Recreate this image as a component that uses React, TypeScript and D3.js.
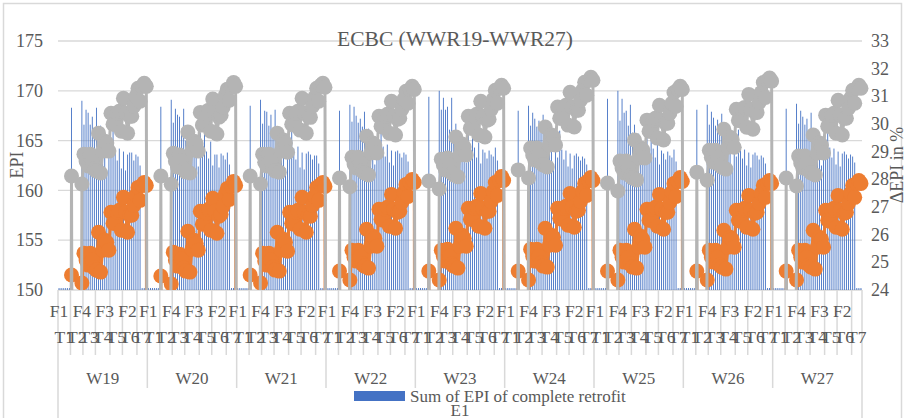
import React from "react";
import * as d3 from "d3";

// ---- data -------------------------------------------------------------
const groups = ["W19", "W20", "W21", "W22", "W23", "W24", "W25", "W26", "W27"];
const tLabels = ["T1", "T2", "T3", "T4", "T5", "T6", "T7"];
// number of category slots under each T inside one W group
const tSizes = [6, 6, 6, 7, 6, 7, 5];
// innermost labels that fit on the axis, and the slot each one sits on
const fLabels = ["F1", "F4", "F3", "F2"];
const fLabelSlots = [0, 11, 22, 33];

const leftTicks = [150, 155, 160, 165, 170, 175];
const rightTicks = [24, 25, 26, 27, 28, 29, 30, 31, 32, 33];

// Sum of EPI of complete retrofit (bars), one value per slot
const epiW19 = [150.2, 150.2, 150.2, 150.2, 150.2, 150.2, 168.3, 0, 0, 0, 0, 169.0, 166.6, 168.1, 167.8, 166.6, 167.4, 166.0, 168.3, 164.6, 166.5, 163.8, 164.3, 162.0, 165.5, 163.4, 166.8, 164.0, 163.0, 164.2, 162.2, 163.9, 162.0, 163.6, 163.8, 163.8, 163.0, 163.6, 163.4, 162.5, 150.2, 150.2, 150.2];
const epiW20 = [150.2, 150.2, 150.2, 150.2, 150.2, 150.2, 168.4, 0, 0, 0, 0, 169.1, 166.8, 168.2, 167.6, 167.4, 166.2, 168.2, 165.0, 166.0, 164.1, 165.2, 163.8, 164.1, 162.4, 165.8, 163.6, 166.5, 163.9, 163.2, 164.9, 162.5, 163.6, 163.6, 162.3, 163.7, 163.5, 163.1, 163.8, 162.6, 150.2, 150.2, 150.2];
const epiW21 = [150.2, 150.2, 150.2, 150.2, 150.2, 150.2, 168.5, 0, 0, 0, 0, 169.1, 166.7, 168.0, 167.9, 166.5, 167.6, 166.1, 168.1, 164.8, 166.3, 163.9, 164.5, 162.2, 165.4, 163.5, 166.6, 164.2, 163.1, 164.4, 162.3, 163.8, 162.1, 163.7, 163.9, 163.6, 163.1, 163.5, 163.5, 162.7, 150.2, 150.2, 150.2];
const epiW22 = [150.2, 150.2, 150.2, 150.2, 150.2, 150.2, 168.0, 0, 0, 0, 0, 168.6, 166.9, 168.4, 167.5, 166.8, 167.2, 166.4, 167.9, 165.0, 166.2, 164.2, 164.6, 162.6, 165.2, 163.8, 166.3, 164.4, 163.4, 164.6, 162.8, 164.0, 162.5, 163.9, 164.0, 163.7, 163.3, 163.8, 163.6, 162.9, 150.2, 150.2, 150.2];
const epiW23 = [150.2, 150.2, 150.2, 150.2, 150.2, 150.2, 169.4, 0, 0, 0, 0, 170.0, 168.1, 169.3, 168.1, 168.4, 166.1, 169.3, 166.0, 166.7, 164.4, 165.9, 164.0, 163.6, 162.8, 165.6, 164.0, 166.4, 164.3, 163.3, 164.8, 162.7, 164.1, 163.8, 163.2, 164.0, 163.6, 163.4, 164.3, 163.0, 150.2, 150.2, 150.2];
const epiW24 = [150.2, 150.2, 150.2, 150.2, 150.2, 150.2, 168.0, 0, 0, 0, 0, 168.5, 166.5, 167.8, 167.2, 166.4, 167.0, 165.8, 167.6, 164.5, 165.9, 163.9, 164.2, 162.3, 165.0, 163.3, 166.0, 164.1, 163.1, 164.0, 162.4, 163.7, 162.2, 163.5, 163.7, 163.4, 163.0, 163.4, 163.2, 162.6, 150.2, 150.2, 150.2];
const epiW25 = [150.2, 150.2, 150.2, 150.2, 150.2, 150.2, 169.2, 0, 0, 0, 0, 170.0, 167.0, 169.2, 167.8, 168.0, 166.5, 168.6, 165.8, 166.6, 164.3, 165.7, 163.9, 163.8, 162.7, 165.4, 163.9, 166.2, 164.2, 163.3, 164.6, 162.6, 164.0, 163.7, 163.1, 163.9, 163.5, 163.3, 164.1, 162.9, 150.2, 150.2, 150.2];
const epiW26 = [150.2, 150.2, 150.2, 150.2, 150.2, 150.2, 168.1, 0, 0, 0, 0, 168.6, 166.6, 167.9, 167.3, 166.5, 167.1, 165.9, 167.7, 164.6, 166.0, 164.0, 164.3, 162.4, 165.1, 163.4, 166.1, 164.2, 163.2, 164.1, 162.5, 163.8, 162.3, 163.6, 163.8, 163.5, 163.1, 163.5, 163.3, 162.7, 150.2, 150.2, 150.2];
const epiW27 = [150.2, 150.2, 150.2, 150.2, 150.2, 150.2, 168.2, 0, 0, 0, 0, 168.7, 166.7, 168.0, 167.4, 166.6, 167.2, 166.0, 167.8, 164.7, 166.1, 164.1, 164.4, 162.5, 165.2, 163.5, 166.2, 164.3, 163.3, 164.2, 162.6, 163.9, 162.4, 163.7, 163.9, 163.6, 163.2, 163.6, 163.4, 162.8, 150.2, 150.2, 150.2];
const epiRetrofit = [epiW19, epiW20, epiW21, epiW22, epiW23, epiW24, epiW25, epiW26, epiW27];

// slots that carry a value for the two marker series
const pointSlots = [6, 11, 12, 13, 14, 15, 16, 17, 18, 19, 20, 21, 22, 23, 24, 25, 26, 27, 28, 29, 30, 31, 32, 33, 34, 35, 36, 37, 38, 39, 40, 41, 42];

// EPI of partial retrofit (orange, primary axis)
const partW19 = [151.5, 150.7, 153.7, 153.0, 152.5, 153.7, 153.0, 152.2, 152.0, 155.8, 151.8, 154.0, 155.0, 154.8, 154.0, 157.8, 156.7, 156.7, 157.8, 158.0, 156.0, 159.3, 157.8, 155.8, 157.5, 157.5, 158.5, 159.5, 160.3, 159.0, 160.5, 160.8, 160.5];
const partW20 = [151.4, 150.6, 153.8, 153.0, 152.4, 153.6, 153.1, 152.2, 151.9, 155.9, 151.8, 154.1, 155.0, 154.7, 154.0, 157.9, 156.6, 156.8, 157.7, 158.1, 156.0, 159.2, 157.9, 155.7, 157.4, 157.6, 158.4, 159.6, 160.2, 159.1, 160.4, 160.9, 160.5];
const partW21 = [151.5, 150.7, 153.7, 152.9, 152.5, 153.7, 153.0, 152.3, 152.0, 155.8, 151.9, 154.0, 155.1, 154.8, 153.9, 157.8, 156.7, 156.6, 157.8, 158.0, 156.1, 159.3, 157.8, 155.8, 157.5, 157.4, 158.5, 159.4, 160.3, 159.0, 160.6, 160.8, 160.4];
const partW22 = [151.9, 151.0, 154.0, 153.3, 152.9, 154.0, 153.4, 152.6, 152.4, 156.1, 152.2, 154.4, 155.4, 155.2, 154.4, 158.1, 157.1, 157.0, 158.1, 158.3, 156.4, 159.6, 158.1, 156.2, 157.8, 157.9, 158.8, 159.8, 160.6, 159.4, 160.8, 161.1, 160.8];
const partW23 = [151.9, 151.0, 154.0, 153.4, 152.9, 154.1, 153.4, 152.6, 152.4, 156.2, 152.2, 154.4, 155.5, 155.2, 154.4, 158.2, 157.1, 157.1, 158.2, 158.4, 156.4, 159.7, 158.2, 156.2, 157.9, 157.9, 158.9, 159.9, 160.8, 159.5, 161.0, 161.4, 161.0];
const partW24 = [151.9, 151.0, 154.1, 153.4, 152.9, 154.1, 153.4, 152.7, 152.4, 156.2, 152.3, 154.5, 155.5, 155.3, 154.5, 158.2, 157.2, 157.1, 158.2, 158.4, 156.5, 159.7, 158.3, 156.3, 157.9, 158.0, 158.9, 159.9, 160.7, 159.5, 161.0, 161.3, 161.0];
const partW25 = [151.9, 151.0, 154.0, 153.3, 152.8, 154.0, 153.3, 152.6, 152.3, 156.1, 152.2, 154.3, 155.4, 155.1, 154.3, 158.1, 157.0, 157.0, 158.1, 158.3, 156.4, 159.6, 158.1, 156.1, 157.8, 157.8, 158.8, 159.8, 160.7, 159.4, 160.9, 161.3, 160.9];
const partW26 = [151.9, 151.0, 154.0, 153.3, 152.8, 154.0, 153.3, 152.5, 152.3, 156.0, 152.1, 154.3, 155.3, 155.1, 154.3, 158.0, 157.0, 156.9, 158.0, 158.2, 156.3, 159.5, 158.0, 156.1, 157.7, 157.8, 158.7, 159.7, 160.5, 159.3, 160.7, 161.0, 160.7];
const partW27 = [151.9, 151.0, 154.0, 153.3, 152.8, 154.0, 153.3, 152.5, 152.3, 156.0, 152.1, 154.3, 155.3, 155.1, 154.3, 158.0, 157.0, 156.9, 158.0, 158.2, 156.3, 159.5, 158.0, 156.1, 157.7, 157.8, 158.7, 159.7, 160.5, 159.3, 160.7, 161.0, 160.7];
const epiPartial = [partW19, partW20, partW21, partW22, partW23, partW24, partW25, partW26, partW27];

// ΔEPI in % (grey, secondary axis)
const dW19 = [28.12, 27.83, 28.91, 28.66, 28.48, 28.91, 28.66, 28.37, 28.30, 29.67, 28.23, 29.02, 29.38, 29.31, 29.02, 30.39, 29.99, 29.99, 30.39, 30.46, 29.74, 30.93, 30.39, 29.67, 30.28, 30.28, 30.64, 31.00, 31.29, 30.82, 31.36, 31.47, 31.36];
const dW20 = [28.12, 27.82, 28.94, 28.66, 28.45, 28.88, 28.68, 28.37, 28.27, 29.71, 28.23, 29.05, 29.38, 29.28, 29.02, 30.42, 29.96, 30.02, 30.36, 30.50, 29.74, 30.90, 30.42, 29.64, 30.25, 30.32, 30.61, 31.04, 31.26, 30.86, 31.33, 31.50, 31.36];
const dW21 = [28.12, 27.83, 28.91, 28.62, 28.48, 28.91, 28.66, 28.41, 28.30, 29.67, 28.26, 29.02, 29.42, 29.31, 28.98, 30.39, 29.99, 29.96, 30.39, 30.46, 29.78, 30.93, 30.39, 29.67, 30.28, 30.24, 30.64, 30.96, 31.29, 30.82, 31.40, 31.47, 31.33];
const dW22 = [28.05, 27.73, 28.80, 28.55, 28.41, 28.80, 28.59, 28.30, 28.23, 29.56, 28.16, 28.95, 29.31, 29.24, 28.95, 30.28, 29.92, 29.88, 30.28, 30.35, 29.67, 30.82, 30.28, 29.60, 30.17, 30.21, 30.53, 30.89, 31.18, 30.75, 31.25, 31.36, 31.25];
const dW23 = [27.94, 27.65, 28.73, 28.52, 28.34, 28.77, 28.52, 28.23, 28.16, 29.53, 28.09, 28.88, 29.28, 29.17, 28.88, 30.28, 29.85, 29.85, 30.28, 30.35, 29.60, 30.82, 30.28, 29.53, 30.14, 30.17, 30.53, 30.89, 31.22, 30.75, 31.29, 31.40, 31.29];
const dW24 = [28.34, 28.05, 29.13, 28.88, 28.70, 29.13, 28.88, 28.59, 28.52, 29.89, 28.45, 29.24, 29.60, 29.53, 29.24, 30.61, 30.21, 30.21, 30.61, 30.68, 29.96, 31.15, 30.61, 29.89, 30.50, 30.50, 30.86, 31.22, 31.51, 31.04, 31.58, 31.69, 31.58];
const dW25 = [27.87, 27.58, 28.66, 28.41, 28.23, 28.66, 28.41, 28.12, 28.05, 29.42, 27.98, 28.77, 29.13, 29.06, 28.77, 30.14, 29.74, 29.74, 30.14, 30.21, 29.49, 30.68, 30.14, 29.42, 30.03, 30.03, 30.39, 30.75, 31.14, 30.64, 31.25, 31.36, 31.25];
const dW26 = [28.26, 27.97, 29.05, 28.80, 28.62, 29.05, 28.80, 28.51, 28.44, 29.81, 28.37, 29.16, 29.52, 29.45, 29.16, 30.53, 30.13, 30.13, 30.53, 30.60, 29.88, 31.07, 30.53, 29.81, 30.42, 30.42, 30.78, 31.14, 31.50, 30.96, 31.58, 31.66, 31.55];
const dW27 = [28.05, 27.76, 28.84, 28.59, 28.41, 28.84, 28.59, 28.30, 28.23, 29.60, 28.16, 28.95, 29.31, 29.24, 28.95, 30.32, 29.92, 29.92, 30.32, 30.39, 29.67, 30.86, 30.32, 29.60, 30.21, 30.21, 30.57, 30.93, 31.22, 30.75, 31.29, 31.40, 31.29];
const deltaEpi = [dW19, dW20, dW21, dW22, dW23, dW24, dW25, dW26, dW27];

// ---- layout -----------------------------------------------------------
const WIDTH = 905;
const HEIGHT = 418;
const PL = 58;
const PR = 862;
const PT = 41;
const PB = 290;
const SLOTS = tSizes.reduce((a, b) => a + b, 0);

const FONT = '"Liberation Serif", "DejaVu Serif", "Times New Roman", serif';
const TEXT = "#595959";
const GRID = "#d9d9d9";
const BLUE = "#4472C4";
const ORANGE = "#ED7D31";
const GREY = "#B4B4B4";

export default function App() {
  const total = groups.length * SLOTS;
  const x = d3.scaleBand<number>().domain(d3.range(total)).range([PL, PR]);
  const bw = x.bandwidth();
  const cx = (i: number) => (x(i) as number) + bw / 2;
  const yL = d3.scaleLinear().domain([150, 175]).range([PB, PT]);
  const yR = d3.scaleLinear().domain([24, 33]).range([PB, PT]);

  // flatten the series onto the global slot index
  const bars: { i: number; v: number }[] = [];
  const orangeAll: number[] = new Array(total).fill(0);
  const greyAll: number[] = new Array(total).fill(0);
  groups.forEach((_, g) => {
    epiRetrofit[g].forEach((v, s) => bars.push({ i: g * SLOTS + s, v }));
    pointSlots.forEach((s, k) => {
      orangeAll[g * SLOTS + s] = epiPartial[g][k];
      greyAll[g * SLOTS + s] = deltaEpi[g][k];
    });
  });

  const orangeLine = d3
    .line<number>()
    .x((_, i) => cx(i))
    .y((v) => yL(v))(orangeAll) as string;
  const greyLine = d3
    .line<number>()
    .x((_, i) => cx(i))
    .y((v) => yR(v))(greyAll) as string;

  const groupStart = (g: number) => x(g * SLOTS) as number;
  const groupEnd = (g: number) => (g === groups.length - 1 ? PR : (x((g + 1) * SLOTS) as number));

  // T boundaries inside each group
  const tBounds: number[] = [];
  const tCenters: { x: number; label: string }[] = [];
  groups.forEach((_, g) => {
    let acc = 0;
    tSizes.forEach((n, t) => {
      const a = g * SLOTS + acc;
      const x0 = x(a) as number;
      const x1 = a + n >= total ? PR : (x(a + n) as number);
      if (t > 0) tBounds.push(x0);
      tCenters.push({ x: (x0 + x1) / 2, label: tLabels[t] });
      acc += n;
    });
  });

  const txt = { fontFamily: FONT, fill: TEXT } as React.CSSProperties;

  return (
    <svg
      width={WIDTH}
      height={HEIGHT}
      style={{ position: "absolute", left: 0, top: 0, background: "#fff", fontFamily: FONT }}
    >
      <defs>
        <clipPath id="plotClip">
          <rect x={PL} y={0} width={PR - PL} height={PB} />
        </clipPath>
        <clipPath id="markClip">
          <rect x={0} y={0} width={WIDTH} height={PB} />
        </clipPath>
      </defs>
      <rect x={3.5} y={3.5} width={898} height={440} fill="#fff" stroke={GRID} strokeWidth={1.5} />

      {/* gridlines */}
      {leftTicks.map((t) => (
        <line key={t} x1={PL} x2={PR} y1={yL(t)} y2={yL(t)} stroke={GRID} strokeWidth={1.3} />
      ))}

      {/* title */}
      <text x={455} y={46} textAnchor="middle" fontSize={21.5} style={txt}>
        ECBC (WWR19-WWR27)
      </text>

      {/* left axis */}
      {leftTicks.map((t) => (
        <text key={t} x={43} y={yL(t)} dy="0.34em" textAnchor="end" fontSize={18} style={txt}>
          {t}
        </text>
      ))}
      <text x={23} y={165} transform="rotate(-90 23 165)" textAnchor="middle" fontSize={18} style={txt}>
        EPI
      </text>

      {/* right axis */}
      {rightTicks.map((t) => (
        <text key={t} x={871} y={yR(t)} dy="0.34em" textAnchor="start" fontSize={18} style={txt}>
          {t}
        </text>
      ))}
      <text x={903} y={165} transform="rotate(-90 903 165)" textAnchor="middle" fontSize={18} style={txt}>
        ΔEPI in %
      </text>

      {/* bars */}
      <g fill={BLUE}>
        {bars
          .filter((b) => b.v > 150)
          .map((b) => (
            <rect key={b.i} x={cx(b.i) - 0.45} y={yL(b.v)} width={0.9} height={PB - yL(b.v)} />
          ))}
      </g>

      {/* partial-retrofit EPI */}
      <path d={orangeLine} fill="none" stroke={ORANGE} strokeWidth={3} clipPath="url(#plotClip)" />
      <g fill={ORANGE} clipPath="url(#markClip)">
        {orangeAll.map((v, i) =>
          v > 0 ? <circle key={i} cx={cx(i)} cy={yL(v)} r={7.5} /> : null
        )}
      </g>

      {/* ΔEPI */}
      <path d={greyLine} fill="none" stroke={GREY} strokeWidth={3} clipPath="url(#plotClip)" />
      <g fill={GREY} clipPath="url(#markClip)">
        {greyAll.map((v, i) =>
          v > 0 ? <circle key={i} cx={cx(i)} cy={yR(v)} r={7.5} /> : null
        )}
      </g>

      {/* category axis: tick lines */}
      <g stroke={GRID} strokeWidth={1.5}>
        {tBounds.map((bx, k) => (
          <line key={"t" + k} x1={bx} x2={bx} y1={PB} y2={355} />
        ))}
        {groups.slice(1).map((_, g) => (
          <line key={"w" + g} x1={groupStart(g + 1)} x2={groupStart(g + 1)} y1={PB} y2={388} />
        ))}
        <line x1={PL} x2={PL} y1={PB} y2={HEIGHT} />
        <line x1={PR} x2={PR} y1={PB} y2={HEIGHT} />
      </g>

      {/* F labels */}
      <g textAnchor="middle">
        {groups.map((_, g) =>
          fLabelSlots.map((s, k) => (
            <text key={g + "-" + k} x={cx(g * SLOTS + s)} y={316.5} fontSize={17.5} style={txt}>
              {fLabels[k]}
            </text>
          ))
        )}
      </g>

      {/* T labels */}
      <g textAnchor="middle">
        {tCenters.map((t, k) => (
          <text key={k} x={t.x} y={343} fontSize={17.5} style={txt}>
            {t.label}
          </text>
        ))}
      </g>

      {/* W labels */}
      <g textAnchor="middle">
        {groups.map((w, g) => (
          <text key={w} x={(groupStart(g) + groupEnd(g)) / 2} y={383.5} fontSize={17} style={txt}>
            {w}
          </text>
        ))}
      </g>

      {/* legend */}
      <rect x={354} y={391} width={51} height={10} fill={BLUE} />
      <text x={410} y={401.5} fontSize={17} style={txt}>
        Sum of EPI of complete retrofit
      </text>
      <text x={460} y={416} fontSize={17} textAnchor="middle" style={txt}>
        E1
      </text>
    </svg>
  );
}
